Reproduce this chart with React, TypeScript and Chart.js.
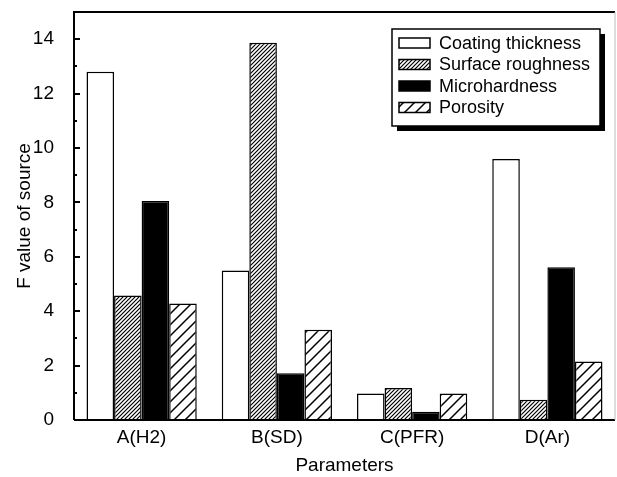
import React, { useEffect, useRef } from "react";
import { Chart, registerables } from "chart.js";

Chart.register(...registerables);

const categories = ["A(H2)", "B(SD)", "C(PFR)", "D(Ar)"];
const seriesNames = ["Coating thickness", "Surface roughness", "Microhardness", "Porosity"];
const coatingThickness = [12.8, 5.5, 0.97, 9.6];
const surfaceRoughness = [4.58, 13.87, 1.18, 0.74];
const microhardness = [8.05, 1.72, 0.3, 5.62];
const porosity = [4.28, 3.32, 0.97, 2.15];
const yTicks = [0, 2, 4, 6, 8, 10, 12, 14];
const yMax = 15;

const FONT = "'Liberation Sans', Arial, sans-serif";

function makeHatch(size: number, lw: number) {
  const c = document.createElement("canvas");
  c.width = size;
  c.height = size;
  const g = c.getContext("2d")!;
  g.fillStyle = "#fff";
  g.fillRect(0, 0, size, size);
  g.strokeStyle = "#000";
  g.lineWidth = lw;
  g.beginPath();
  g.moveTo(-2, 2);
  g.lineTo(2, -2);
  g.moveTo(0, size);
  g.lineTo(size, 0);
  g.moveTo(size - 2, size + 2);
  g.lineTo(size + 2, size - 2);
  g.stroke();
  return g.createPattern(c, "repeat")!;
}

export default function App() {
  const ref = useRef<HTMLCanvasElement>(null);
  useEffect(() => {
    const dense = makeHatch(4, 1.2);
    const sparse = makeHatch(11, 1.5);
    const fills: any[] = ["#ffffff", dense, "#000000", sparse];
    const values = [coatingThickness, surfaceRoughness, microhardness, porosity];

    const framePlugin = {
      id: "frame",
      afterDraw(chart: any) {
        const { ctx, chartArea } = chart;
        const { left, right, top, bottom } = chartArea;
        const ys = chart.scales.y;
        ctx.save();
        ctx.strokeStyle = "#000";
        ctx.lineWidth = 2;
        ctx.beginPath();
        ctx.moveTo(left, bottom);
        ctx.lineTo(left, top);
        ctx.lineTo(right, top);
        ctx.moveTo(left, bottom);
        ctx.lineTo(right, bottom);
        ctx.stroke();
        ctx.strokeStyle = "#bbb";
        ctx.lineWidth = 1;
        ctx.beginPath();
        ctx.moveTo(right, top);
        ctx.lineTo(right, bottom);
        ctx.stroke();
        ctx.strokeStyle = "#000";
        ctx.lineWidth = 2;
        ctx.beginPath();
        for (let v = 1; v <= 14; v++) {
          const y = Math.round(ys.getPixelForValue(v));
          const len = v % 2 === 0 ? 6 : 3;
          ctx.moveTo(left, y);
          ctx.lineTo(left + len, y);
        }
        ctx.stroke();

        // legend
        const bx = right - 223;
        const by = top + 17;
        const bw = 208;
        const bh = 97;
        ctx.fillStyle = "#000";
        ctx.fillRect(bx + 5, by + 5, bw, bh);
        ctx.fillStyle = "#fff";
        ctx.fillRect(bx, by, bw, bh);
        ctx.lineWidth = 1.5;
        ctx.strokeRect(bx, by, bw, bh);
        ctx.font = `18px ${FONT}`;
        ctx.textBaseline = "middle";
        ctx.textAlign = "left";
        seriesNames.forEach((name, i) => {
          const ry = by + 14 + i * 21.5;
          ctx.fillStyle = fills[i];
          ctx.fillRect(bx + 7, ry - 5, 31, 10);
          ctx.lineWidth = 1.5;
          ctx.strokeStyle = "#000";
          ctx.strokeRect(bx + 7, ry - 5, 31, 10);
          ctx.fillStyle = "#000";
          ctx.fillText(name, bx + 47, ry + 1);
        });
        ctx.restore();
      },
    };

    const chart = new Chart(ref.current!, {
      type: "bar",
      data: {
        labels: categories,
        datasets: seriesNames.map((name, i) => ({
          label: name,
          data: values[i],
          backgroundColor: fills[i],
          borderColor: "#000",
          borderWidth: 1.5,
          borderSkipped: "start" as const,
          categoryPercentage: 0.815,
          barPercentage: 1,
        })),
      },
      options: {
        animation: false,
        responsive: true,
        maintainAspectRatio: false,
        layout: { padding: { top: 12, right: 2, left: 0, bottom: 0 } },
        plugins: { legend: { display: false }, tooltip: { enabled: false } },
        scales: {
          x: {
            offset: true,
            grid: { display: false },
            border: { display: false },
            ticks: {
              color: "#000",
              padding: -2,
              font: { family: FONT, size: 19 },
            },
            title: {
              display: true,
              text: "Parameters",
              color: "#000",
              padding: { top: 6, bottom: 0 },
              font: { family: FONT, size: 19 },
            },
            afterFit: (s: any) => {
              s.height = 57;
              s.paddingLeft = 0;
              s.paddingRight = 0;
            },
          },
          y: {
            min: 0,
            max: yMax,
            grid: { display: false },
            border: { display: false },
            afterBuildTicks: (s: any) => {
              s.ticks = yTicks.map((v) => ({ value: v }));
            },
            ticks: {
              color: "#000",
              padding: 12,
              font: { family: FONT, size: 19 },
            },
            title: {
              display: true,
              text: "F value of source",
              color: "#000",
              padding: { top: 13, bottom: 0 },
              font: { family: FONT, size: 19 },
            },
            afterFit: (s: any) => {
              s.width = 74;
              s.paddingTop = 0;
              s.paddingBottom = 0;
            },
          },
        },
      },
      plugins: [framePlugin],
    });
    return () => chart.destroy();
  }, []);

  return (
    <div style={{ position: "fixed", left: 0, top: 0, width: 617, height: 477, background: "#fff" }}>
      <canvas ref={ref} />
    </div>
  );
}
